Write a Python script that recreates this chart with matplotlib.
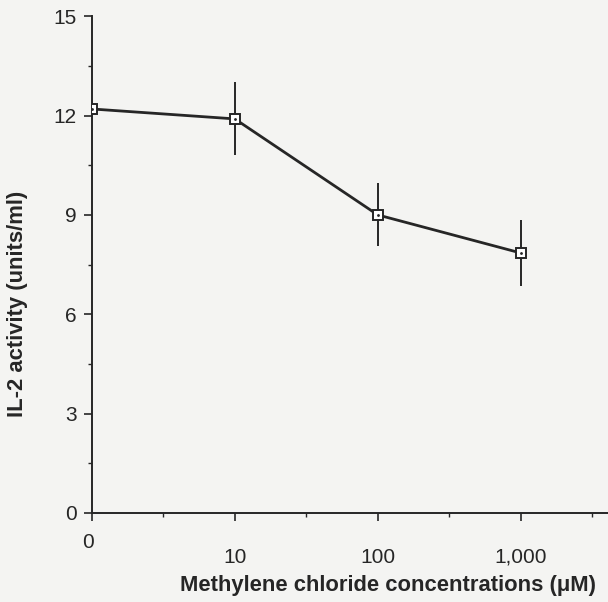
import matplotlib.pyplot as plt
import numpy as np
from matplotlib.ticker import FixedLocator

plt.rcParams["font.family"] = ["Liberation Sans", "DejaVu Sans"]

# IL-2 activity vs. methylene chloride dose
conc_labels = ["0", "10", "100", "1,000"]
conc_um = [0, 10, 100, 1000]
il2_activity = [12.2, 11.9, 9.0, 7.85]
il2_err = [0.0, 1.1, 0.95, 1.0]

ink = "#262626"
paper = "#f4f4f2"

# 0 sits where 1 would be on the log axis
xpos = [np.log10(c) if c > 0 else 0.0 for c in conc_um]

fig = plt.figure(figsize=(6.08, 6.02), dpi=100, facecolor=paper)
ax = fig.add_axes([0.151, 0.148, 0.849, 0.825], facecolor=paper)

ax.errorbar(xpos, il2_activity, yerr=il2_err, color=ink, lw=2.0,
            elinewidth=1.4, capsize=0, marker="s", ms=7, mfc="white",
            mec=ink, mew=1.4, zorder=3)
ax.plot(xpos, il2_activity, ls="none", marker=".", ms=2, color=ink, zorder=4)

ax.set_xlim(0, 3.61)
ax.set_ylim(0, 15)
ax.set_yticks([0, 3, 6, 9, 12, 15])
ax.yaxis.set_minor_locator(FixedLocator(np.arange(1.5, 15, 3)))
ax.set_xticks(xpos)
ax.set_xticklabels([""] + conc_labels[1:])
ax.xaxis.set_minor_locator(FixedLocator([0.5, 1.5, 2.5, 3.5]))
ax.text(xpos[0] - 0.03, -0.9, conc_labels[0], ha="center", va="center",
        fontsize=15, color=ink)

for side in ["top", "right"]:
    ax.spines[side].set_visible(False)
for side in ["left", "bottom"]:
    ax.spines[side].set_color(ink)
    ax.spines[side].set_linewidth(1.4)

ax.tick_params(which="major", length=6, width=1.2, color=ink,
               labelsize=15, labelcolor=ink)
ax.tick_params(axis="x", which="major", pad=19)
ax.tick_params(axis="y", which="major", pad=5)
ax.tick_params(which="minor", length=3, width=1.0, color=ink)

ax.set_xlabel("Methylene chloride concentrations (\u03bcM)", fontsize=15.8,
              fontweight="bold", color=ink)
ax.xaxis.set_label_coords(0.574, -0.125)
ax.set_ylabel("IL-2 activity (units/ml)", fontsize=15.8, fontweight="bold",
              color=ink)
ax.yaxis.set_label_coords(-0.124, 0.42)

fig.savefig("out.png", dpi=100, facecolor=paper)
